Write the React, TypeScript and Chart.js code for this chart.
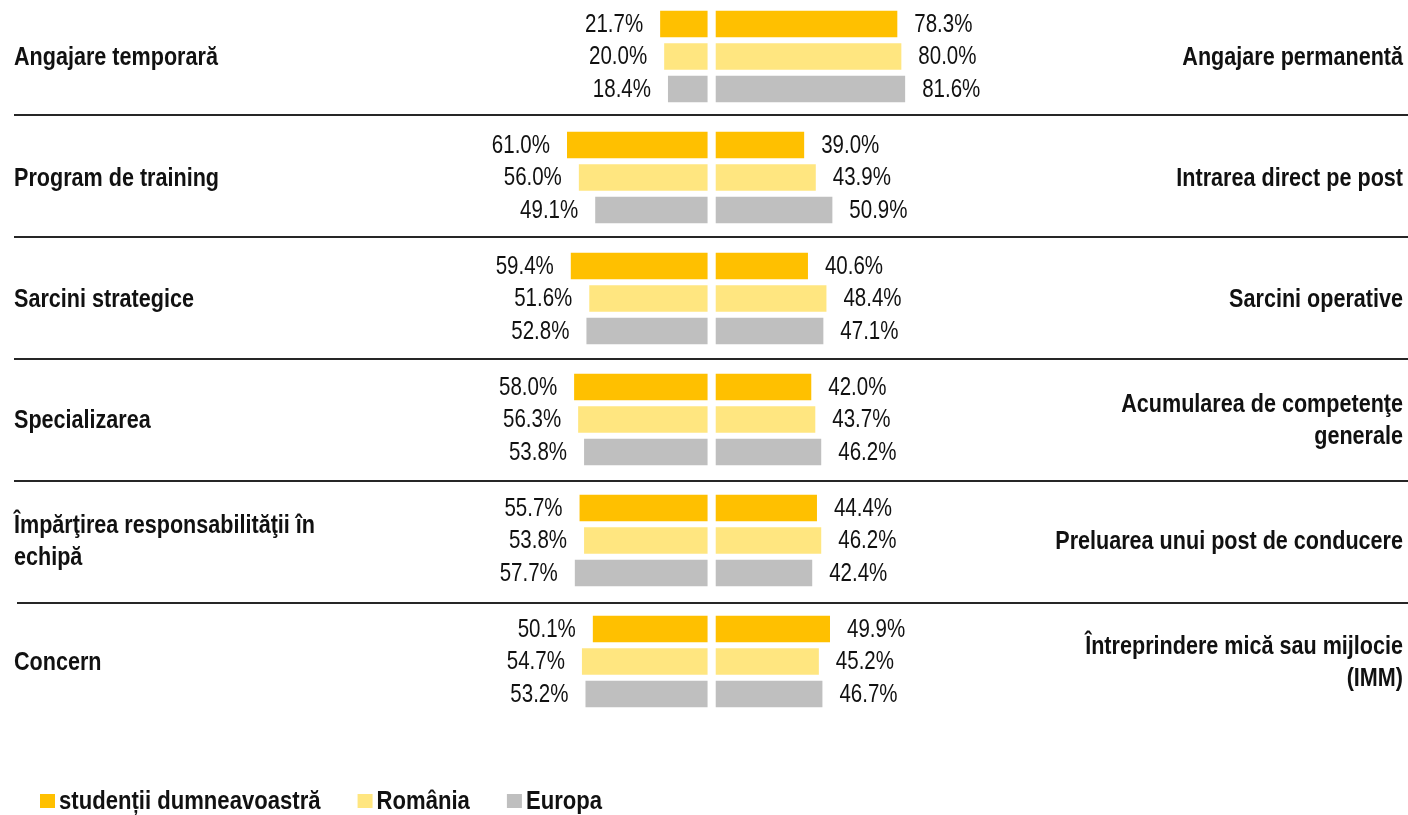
import React, { useEffect, useRef } from "react";
import { Chart, registerables } from "chart.js";

Chart.register(...registerables);

const categories = ["1", "2", "3", "4", "5", "6"];
const leftLabels = [
  "Angajare temporară",
  "Program de training",
  "Sarcini strategice",
  "Specializarea",
  "Împărţirea responsabilităţii în\nechipă",
  "Concern",
];
const rightLabels = [
  "Angajare permanentă",
  "Intrarea direct pe post",
  "Sarcini operative",
  "Acumularea de competenţe\ngenerale",
  "Preluarea unui post de conducere",
  "Întreprindere mică sau mijlocie\n(IMM)",
];
const seriesNames = ["studenții dumneavoastră", "România", "Europa"];
const studentsLeft = [21.7, 61.0, 59.4, 58.0, 55.7, 50.1];
const romaniaLeft = [20.0, 56.0, 51.6, 56.3, 53.8, 54.7];
const europaLeft = [18.4, 49.1, 52.8, 53.8, 57.7, 53.2];
const studentsRight = [78.3, 39.0, 40.6, 42.0, 44.4, 49.9];
const romaniaRight = [80.0, 43.9, 48.4, 43.7, 46.2, 45.2];
const europaRight = [81.6, 50.9, 47.1, 46.2, 42.4, 46.7];
const colors = ["#FFC000", "#FFE680", "#BFBFBF"];

const FONT = '"Liberation Sans", Arial, sans-serif';
const NARROW = 0.82;
const NARROW_BOLD = 0.83;
const NARROW_LEGEND = 0.85;

const leftSeries = [studentsLeft, romaniaLeft, europaLeft];
const rightSeries = [studentsRight, romaniaRight, europaRight];

function drawNarrow(
  ctx: CanvasRenderingContext2D,
  text: string,
  x: number,
  y: number,
  align: CanvasTextAlign,
  sx: number
) {
  ctx.save();
  ctx.translate(x, y);
  ctx.scale(sx, 1);
  ctx.textAlign = align;
  ctx.fillText(text, 0, 0);
  ctx.restore();
}

const labelsPlugin = {
  id: "labelsPlugin",
  afterDatasetsDraw(chart: any) {
    const ctx = chart.ctx as CanvasRenderingContext2D;
    const y = chart.scales.y;
    ctx.save();
    ctx.textBaseline = "middle";
    ctx.fillStyle = "#111";
    // value labels
    ctx.font = `25px ${FONT}`;
    chart.data.datasets.forEach((ds: any, i: number) => {
      const meta = chart.getDatasetMeta(i);
      const isLeft = ds.side === "left";
      meta.data.forEach((el: any, j: number) => {
        const v = Math.abs(ds.data[j]);
        const text = v.toFixed(1) + "%";
        if (isLeft) drawNarrow(ctx, text, el.x - 15, el.y + 1, "right", NARROW);
        else drawNarrow(ctx, text, el.x + 15, el.y + 1, "left", NARROW);
      });
    });
    // category labels
    ctx.font = `bold 26px ${FONT}`;
    const lh = 32;
    leftLabels.forEach((lab, i) => {
      const cy = y.getPixelForValue(i);
      const lines = lab.split("\n");
      lines.forEach((ln, k) => {
        drawNarrow(ctx, ln, 14, cy + 1 + (k - (lines.length - 1) / 2) * lh, "left", NARROW_BOLD);
      });
    });
    rightLabels.forEach((lab, i) => {
      const cy = y.getPixelForValue(i);
      const lines = lab.split("\n");
      lines.forEach((ln, k) => {
        drawNarrow(ctx, ln, chart.width - 5, cy + 1 + (k - (lines.length - 1) / 2) * lh, "right", NARROW_BOLD);
      });
    });
    // separators
    ctx.strokeStyle = "#262626";
    ctx.lineWidth = 2;
    for (let i = 0; i < categories.length - 1; i++) {
      const yb = Math.round((y.getPixelForValue(i) + y.getPixelForValue(i + 1)) / 2 - 2 + 0.9 * i);
      ctx.beginPath();
      ctx.moveTo(i === categories.length - 2 ? 17 : 14, yb);
      ctx.lineTo(chart.width, yb);
      ctx.stroke();
    }
    // legend
    ctx.font = `bold 26px ${FONT}`;
    let lx = 40;
    const ly = 798;
    seriesNames.forEach((name, i) => {
      ctx.fillStyle = colors[i];
      ctx.fillRect(lx, ly, 15, 14);
      ctx.fillStyle = "#111";
      drawNarrow(ctx, name, lx + 19, ly + 8, "left", NARROW_LEGEND);
      lx += 19 + ctx.measureText(name).width * NARROW_LEGEND + 37;
    });
    ctx.restore();
  },
};

export default function App() {
  const ref = useRef<HTMLCanvasElement>(null);
  useEffect(() => {
    const datasets: any[] = [];
    leftSeries.forEach((s, i) => {
      datasets.push({
        label: seriesNames[i],
        side: "left",
        data: s.map((v) => -v),
        backgroundColor: colors[i],
        xAxisID: "xL",
        stack: "s" + i,
      });
    });
    rightSeries.forEach((s, i) => {
      datasets.push({
        label: seriesNames[i],
        side: "right",
        data: s,
        backgroundColor: colors[i],
        xAxisID: "xR",
        stack: "s" + i,
      });
    });
    datasets.forEach((d) => {
      d.borderColor = "#ffffff";
      d.borderWidth = 2;
      d.borderSkipped = false;
      d.barPercentage = 0.945;
      d.categoryPercentage = 0.806;
    });
    const chart = new Chart(ref.current!, {
      type: "bar",
      data: { labels: categories, datasets },
      options: {
        indexAxis: "y",
        animation: false,
        responsive: true,
        maintainAspectRatio: false,
        layout: { padding: { left: 0, right: 0, top: 0, bottom: 93 } },
        plugins: { legend: { display: false }, tooltip: { enabled: false } },
        scales: {
          y: { type: "category", display: false, grid: { display: false } },
          xL: { type: "linear", display: false, min: -299.4, max: 294.7 },
          xR: { type: "linear", display: false, min: -301.1, max: 292.9 },
        },
      } as any,
      plugins: [labelsPlugin],
    });
    return () => chart.destroy();
  }, []);
  return (
    <div style={{ position: "absolute", left: 0, top: -4, width: 1408, height: 819 }}>
      <canvas ref={ref} />
    </div>
  );
}
